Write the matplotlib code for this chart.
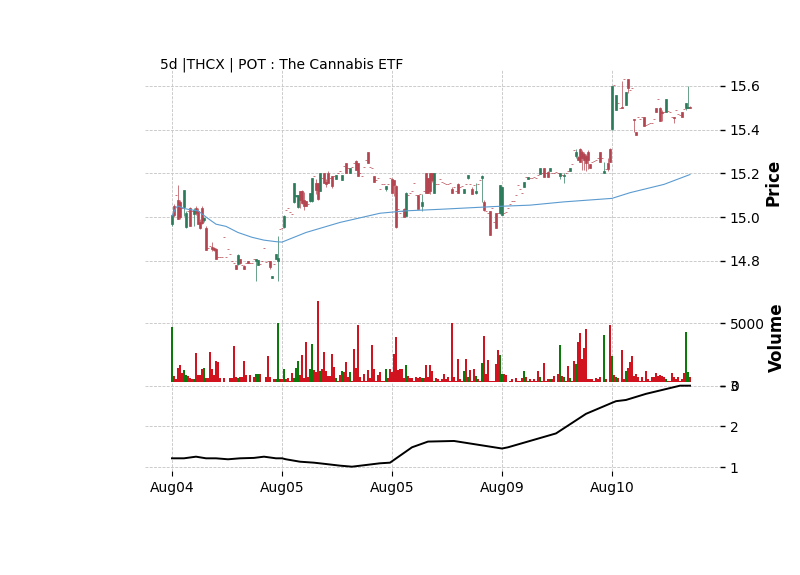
"""5d intraday candles, volume and indicator panel for POT"""

import matplotlib.pyplot as plt
import numpy

TITLE = '5d |THCX | POT : The Cannabis ETF'
TICK_POS = [0, 55, 110, 165, 220]
TICK_LABELS = ['Aug04', 'Aug05', 'Aug05', 'Aug09', 'Aug10']

OPEN = [
    14.97, 15.05, 15.10, 15.08, 15.07, 15.04, 15.045, 14.955, 15.03, 15.04,
    15.03, 15.015, 15.04, 15.03, 14.98, 15.04, 14.985, 14.95, 14.86, 14.87,
    14.865, 14.86, 14.855, 14.82, 14.82, 14.82, 14.91, 14.82, 14.855, 14.83,
    14.80, 14.79, 14.78, 14.785, 14.81, 14.78, 14.775, 14.79, 14.80, 14.79,
    14.79, 14.81, 14.80, 14.78, 14.785, 14.80, 14.86, 14.795, 14.80, 14.80,
    14.72, 14.785, 14.81, 14.80, 14.945, 14.95, 14.955, 15.035, 15.04, 15.025,
    15.015, 15.07, 15.095, 15.045, 15.12, 15.12, 15.08, 15.075, 15.06, 15.075,
    15.075, 15.19, 15.155, 15.158, 15.12, 15.18, 15.20, 15.16, 15.203, 15.18,
    15.188, 15.19, 15.173, 15.20, 15.21, 15.17, 15.233, 15.249, 15.225, 15.203,
    15.23, 15.249, 15.259, 15.249, 15.20, 15.188, 15.23, 15.26, 15.30, 15.23,
    15.226, 15.188, 15.17, 15.18, 15.13, 15.15, 15.15, 15.127, 15.15, 15.18,
    15.173, 15.17, 15.142, 15.036, 15.02, 15.03, 15.036, 15.006, 15.10, 15.11,
    15.12, 15.155, 15.10, 15.10, 15.106, 15.05, 15.12, 15.203, 15.18, 15.20,
    15.20, 15.112, 15.153, 15.15, 15.176, 15.16, 15.155, 15.153, 15.15, 15.155,
    15.13, 15.14, 15.12, 15.153, 15.14, 15.142, 15.112, 15.15, 15.18, 15.153,
    15.13, 15.145, 15.11, 15.153, 15.17, 15.18, 15.071, 15.03, 15.02, 15.029,
    15.044, 14.976, 15.018, 15.017, 15.018, 15.012, 15.02, 15.025, 15.04, 15.06,
    15.074, 15.075, 15.10, 15.145, 15.13, 15.112, 15.14, 15.185, 15.173, 15.18,
    15.18, 15.182, 15.18, 15.194, 15.199, 15.203, 15.223, 15.20, 15.208, 15.21,
    15.20, 15.203, 15.206, 15.20, 15.19, 15.195, 15.19, 15.203, 15.21, 15.21,
    15.241, 15.305, 15.282, 15.276, 15.313, 15.30, 15.29, 15.28, 15.30, 15.244,
    15.253, 15.259, 15.26, 15.27, 15.298, 15.271, 15.203, 15.22, 15.25, 15.313,
    15.403, 15.605, 15.488, 15.52, 15.50, 15.505, 15.63, 15.514, 15.63, 15.58,
    15.59, 15.45, 15.39, 15.456, 15.45, 15.456, 15.456, 15.42, 15.427, 15.43,
    15.43, 15.45, 15.498, 15.539, 15.50, 15.48, 15.48, 15.479, 15.486, 15.48,
    15.456, 15.46, 15.491, 15.47, 15.465, 15.48, 15.494, 15.498, 15.50, 15.505]

HIGH = [
    15.01, 15.06, 15.10, 15.145, 15.08, 15.04, 15.125, 15.03, 15.03, 15.045,
    15.03, 15.04, 15.05, 15.04, 14.99, 15.05, 15.00, 14.96, 14.86, 14.87,
    14.885, 14.865, 14.86, 14.82, 14.82, 14.82, 14.91, 14.82, 14.855, 14.83,
    14.80, 14.79, 14.78, 14.83, 14.81, 14.78, 14.78, 14.79, 14.80, 14.79,
    14.79, 14.81, 14.81, 14.805, 14.785, 14.80, 14.86, 14.795, 14.80, 14.80,
    14.73, 14.785, 14.83, 14.915, 14.945, 14.95, 15.01, 15.035, 15.04, 15.025,
    15.015, 15.155, 15.10, 15.10, 15.12, 15.125, 15.115, 15.075, 15.06, 15.11,
    15.18, 15.19, 15.175, 15.158, 15.20, 15.18, 15.20, 15.175, 15.21, 15.18,
    15.19, 15.19, 15.195, 15.20, 15.21, 15.195, 15.233, 15.25, 15.225, 15.226,
    15.23, 15.249, 15.26, 15.25, 15.20, 15.188, 15.23, 15.26, 15.30, 15.23,
    15.226, 15.19, 15.17, 15.18, 15.13, 15.15, 15.15, 15.142, 15.15, 15.18,
    15.18, 15.17, 15.145, 15.036, 15.02, 15.03, 15.04, 15.115, 15.10, 15.11,
    15.12, 15.155, 15.10, 15.10, 15.106, 15.105, 15.12, 15.203, 15.18, 15.20,
    15.20, 15.203, 15.153, 15.15, 15.176, 15.16, 15.155, 15.153, 15.15, 15.155,
    15.14, 15.14, 15.12, 15.155, 15.14, 15.142, 15.13, 15.15, 15.194, 15.153,
    15.14, 15.145, 15.155, 15.153, 15.17, 15.195, 15.08, 15.03, 15.02, 15.03,
    15.044, 14.976, 15.02, 15.017, 15.145, 15.14, 15.02, 15.025, 15.04, 15.06,
    15.074, 15.075, 15.10, 15.145, 15.13, 15.112, 15.162, 15.185, 15.183, 15.18,
    15.18, 15.182, 15.18, 15.194, 15.223, 15.203, 15.225, 15.20, 15.21, 15.223,
    15.20, 15.203, 15.206, 15.20, 15.20, 15.195, 15.20, 15.203, 15.21, 15.223,
    15.241, 15.305, 15.312, 15.28, 15.315, 15.305, 15.30, 15.29, 15.305, 15.245,
    15.253, 15.259, 15.26, 15.27, 15.30, 15.271, 15.253, 15.22, 15.271, 15.315,
    15.60, 15.605, 15.559, 15.52, 15.50, 15.623, 15.63, 15.571, 15.63, 15.58,
    15.59, 15.45, 15.39, 15.456, 15.45, 15.456, 15.456, 15.42, 15.427, 15.43,
    15.43, 15.45, 15.50, 15.539, 15.505, 15.49, 15.48, 15.539, 15.486, 15.48,
    15.456, 15.46, 15.491, 15.47, 15.465, 15.48, 15.494, 15.524, 15.60, 15.507]

LOW = [
    14.96, 15.00, 15.10, 14.99, 14.99, 15.04, 15.005, 14.95, 15.03, 14.96,
    15.03, 14.96, 15.01, 14.97, 14.945, 14.97, 14.98, 14.85, 14.86, 14.87,
    14.845, 14.845, 14.81, 14.82, 14.82, 14.82, 14.91, 14.82, 14.855, 14.83,
    14.80, 14.79, 14.765, 14.78, 14.785, 14.78, 14.765, 14.79, 14.79, 14.79,
    14.79, 14.81, 14.71, 14.78, 14.785, 14.80, 14.86, 14.795, 14.80, 14.765,
    14.72, 14.785, 14.81, 14.71, 14.945, 14.95, 14.95, 15.035, 15.04, 15.025,
    15.015, 15.065, 15.09, 15.04, 15.04, 15.06, 15.035, 15.05, 15.06, 15.07,
    15.07, 15.19, 15.105, 15.08, 15.12, 15.18, 15.158, 15.14, 15.158, 15.18,
    15.135, 15.19, 15.173, 15.20, 15.21, 15.17, 15.233, 15.203, 15.225, 15.203,
    15.23, 15.249, 15.218, 15.19, 15.20, 15.188, 15.23, 15.26, 15.249, 15.23,
    15.226, 15.16, 15.17, 15.18, 15.13, 15.15, 15.15, 15.12, 15.15, 15.18,
    15.11, 15.095, 14.95, 15.036, 15.02, 15.03, 14.999, 15.005, 15.10, 15.11,
    15.12, 15.155, 15.10, 15.036, 15.106, 15.03, 15.12, 15.112, 15.11, 15.105,
    15.16, 15.112, 15.153, 15.15, 15.176, 15.16, 15.155, 15.153, 15.15, 15.155,
    15.112, 15.14, 15.12, 15.112, 15.14, 15.142, 15.112, 15.15, 15.175, 15.153,
    15.105, 15.145, 15.105, 15.153, 15.17, 15.07, 15.03, 15.03, 15.02, 14.92,
    15.044, 14.976, 14.95, 15.017, 15.015, 15.01, 15.02, 15.025, 15.04, 15.06,
    15.074, 15.075, 15.10, 15.145, 15.13, 15.112, 15.14, 15.185, 15.173, 15.18,
    15.18, 15.182, 15.18, 15.194, 15.199, 15.203, 15.183, 15.20, 15.183, 15.21,
    15.20, 15.203, 15.206, 15.20, 15.173, 15.195, 15.158, 15.203, 15.21, 15.21,
    15.241, 15.305, 15.27, 15.26, 15.251, 15.218, 15.215, 15.21, 15.22, 15.223,
    15.253, 15.259, 15.26, 15.27, 15.251, 15.271, 15.203, 15.22, 15.21, 15.251,
    15.40, 15.605, 15.488, 15.52, 15.50, 15.498, 15.63, 15.514, 15.57, 15.58,
    15.59, 15.388, 15.377, 15.456, 15.45, 15.456, 15.418, 15.42, 15.427, 15.43,
    15.43, 15.45, 15.479, 15.539, 15.44, 15.44, 15.48, 15.479, 15.486, 15.48,
    15.456, 15.43, 15.491, 15.47, 15.465, 15.456, 15.494, 15.49, 15.498, 15.498]

CLOSE = [
    15.01, 15.01, 15.10, 14.99, 15.00, 15.04, 15.125, 15.02, 15.03, 14.96,
    15.03, 15.035, 15.02, 14.97, 14.95, 14.975, 14.995, 14.85, 14.86, 14.87,
    14.855, 14.85, 14.81, 14.82, 14.82, 14.82, 14.91, 14.82, 14.855, 14.83,
    14.80, 14.79, 14.765, 14.825, 14.79, 14.78, 14.765, 14.79, 14.79, 14.79,
    14.79, 14.81, 14.81, 14.805, 14.785, 14.80, 14.86, 14.795, 14.80, 14.77,
    14.73, 14.785, 14.83, 14.815, 14.945, 14.95, 15.005, 15.035, 15.04, 15.025,
    15.015, 15.155, 15.10, 15.10, 15.08, 15.065, 15.05, 15.05, 15.06, 15.11,
    15.18, 15.19, 15.125, 15.082, 15.20, 15.18, 15.158, 15.15, 15.158, 15.18,
    15.142, 15.19, 15.195, 15.20, 15.21, 15.195, 15.233, 15.203, 15.225, 15.226,
    15.23, 15.249, 15.218, 15.19, 15.20, 15.188, 15.23, 15.26, 15.249, 15.23,
    15.226, 15.16, 15.17, 15.18, 15.13, 15.15, 15.15, 15.142, 15.15, 15.18,
    15.112, 15.145, 14.953, 15.036, 15.02, 15.03, 14.999, 15.112, 15.10, 15.11,
    15.12, 15.155, 15.10, 15.036, 15.106, 15.07, 15.12, 15.112, 15.11, 15.12,
    15.17, 15.203, 15.153, 15.15, 15.176, 15.16, 15.155, 15.153, 15.15, 15.155,
    15.112, 15.14, 15.12, 15.112, 15.14, 15.142, 15.13, 15.15, 15.194, 15.153,
    15.105, 15.145, 15.12, 15.153, 15.17, 15.19, 15.033, 15.03, 15.02, 14.92,
    15.044, 14.976, 14.95, 15.017, 15.145, 15.14, 15.02, 15.025, 15.04, 15.06,
    15.074, 15.075, 15.10, 15.145, 15.13, 15.112, 15.162, 15.185, 15.183, 15.18,
    15.18, 15.182, 15.18, 15.194, 15.223, 15.203, 15.183, 15.20, 15.183, 15.223,
    15.20, 15.203, 15.206, 15.20, 15.20, 15.195, 15.195, 15.203, 15.21, 15.223,
    15.241, 15.305, 15.30, 15.26, 15.251, 15.27, 15.26, 15.25, 15.26, 15.223,
    15.253, 15.259, 15.26, 15.27, 15.251, 15.271, 15.21, 15.22, 15.22, 15.251,
    15.60, 15.605, 15.559, 15.52, 15.50, 15.50, 15.63, 15.571, 15.59, 15.58,
    15.59, 15.445, 15.377, 15.456, 15.45, 15.456, 15.418, 15.42, 15.427, 15.43,
    15.43, 15.45, 15.479, 15.539, 15.44, 15.475, 15.48, 15.539, 15.486, 15.48,
    15.456, 15.455, 15.491, 15.47, 15.465, 15.456, 15.494, 15.524, 15.505, 15.498]

VOLUME = [
    4730, 780, 540, 1440, 1660, 990, 1260, 860, 800, 640,
    540, 540, 2640, 860, 860, 1340, 1440, 590, 590, 2720,
    1340, 860, 1980, 1920, 640, 200, 590, 200, 200, 590,
    640, 3180, 670, 590, 720, 720, 1980, 860, 300, 860,
    200, 720, 940, 940, 940, 300, 200, 720, 2380, 720,
    200, 540, 540, 5000, 540, 540, 1340, 540, 640, 400,
    990, 590, 1400, 1980, 860, 2460, 600, 3480, 670, 1340,
    3320, 1260, 1100, 6790, 1180, 1340, 2720, 1180, 780, 780,
    2540, 1520, 590, 400, 860, 1180, 1120, 1920, 700, 1120,
    400, 2940, 1390, 4860, 720, 400, 940, 400, 1260, 590,
    3260, 1340, 400, 860, 1120, 400, 400, 1340, 640, 1340,
    1120, 2540, 3900, 1260, 1340, 1340, 640, 1660, 800, 600,
    590, 400, 700, 600, 670, 590, 590, 1660, 700, 1660,
    1180, 400, 590, 510, 400, 510, 940, 510, 670, 400,
    5000, 670, 400, 2120, 510, 400, 1180, 2120, 670, 1260,
    400, 1340, 780, 510, 400, 1840, 3980, 940, 2060, 400,
    400, 400, 1740, 2860, 2460, 940, 940, 860, 300, 400,
    510, 300, 590, 400, 400, 590, 1180, 670, 400, 510,
    400, 510, 400, 1180, 670, 400, 1790, 400, 510, 510,
    510, 780, 300, 940, 3260, 780, 670, 400, 1580, 590,
    400, 1980, 1740, 3530, 4200, 2140, 3000, 4520, 510, 510,
    510, 400, 590, 510, 670, 300, 4060, 510, 300, 4860,
    2380, 860, 670, 590, 300, 2860, 510, 1180, 1390, 1920,
    2380, 780, 940, 670, 400, 670, 400, 1180, 510, 400,
    670, 670, 1000, 780, 860, 780, 670, 510, 400, 400,
    1000, 670, 510, 670, 400, 510, 1000, 4330, 1120, 670]

# moving average line, read at its kinks
MAV_BAR = [0, 2, 3, 6, 8, 13, 18, 22, 27, 33, 40, 46, 52, 55, 67, 84,
           104, 117, 134, 162, 179, 196, 220, 229, 246, 259]
MAV_VAL = [15.006, 15.044, 15.051, 15.04, 15.036, 15.029, 14.994, 14.968,
           14.958, 14.93, 14.908, 14.895, 14.888, 14.886, 14.93, 14.976,
           15.018, 15.029, 15.036, 15.049, 15.055, 15.07, 15.086, 15.112,
           15.15, 15.195]

# lower indicator line, read at its kinks
IND_BAR = [0, 6, 12, 17, 22, 28, 34, 41, 46, 52, 55, 57, 64, 71, 77, 84, 90,
           97, 104, 109, 120, 128, 141, 165, 168, 192, 207, 220, 222, 227,
           237, 254, 259]
IND_VAL = [1.22, 1.22, 1.26, 1.22, 1.22, 1.196, 1.22, 1.23, 1.26, 1.22, 1.22,
           1.196, 1.137, 1.113, 1.08, 1.04, 1.015, 1.056, 1.098, 1.113, 1.49,
           1.63, 1.645, 1.46, 1.49, 1.83, 2.31, 2.58, 2.62, 2.65, 2.80, 3.0,
           3.0]

CANDLE_UP = '#2b7b5b'
CANDLE_DOWN = '#b3434e'
VOL_UP = '#0b7a0b'
VOL_DOWN = '#d0131f'
GRID_KW = dict(linestyle=(0, (3.5, 1.6)), color='#c4c4c4', linewidth=0.6)


def _px(left, top, right, bottom):
    """axes rectangle from pixel edges"""
    return [left/800, 1-bottom/575, (right-left)/800, (bottom-top)/575]


def _style_axes(ax):
    for spine in ax.spines.values():
        spine.set_visible(False)
    ax.yaxis.tick_right()
    ax.tick_params(axis='y', labelsize=10, width=1.0, length=3.5)
    ax.grid(True, **GRID_KW)
    ax.set_axisbelow(True)
    ax.set_xlim(-13.5, 274)
    ax.set_xticks(TICK_POS)


fig = plt.figure(figsize=(8, 5.75), dpi=100)
ax_price = fig.add_axes(_px(145, 70, 720, 290))
ax_vol = fig.add_axes(_px(145, 290, 720, 385.7))
ax_ind = fig.add_axes(_px(145, 381.6, 720, 471))
ax_ind.set_zorder(3)
ax_ind.set_facecolor('white')

opens = numpy.array(OPEN)
closes = numpy.array(CLOSE)
bars = numpy.arange(len(CLOSE))
rising = closes > opens
candle_colors = numpy.where(rising, CANDLE_UP, CANDLE_DOWN)
vol_colors = numpy.where(rising, VOL_UP, VOL_DOWN)

ax_price.vlines(bars, LOW, HIGH, colors=candle_colors, linewidth=0.5)
ax_price.bar(bars, numpy.abs(closes-opens), bottom=numpy.minimum(opens, closes),
             width=0.7, color=candle_colors, edgecolor=candle_colors,
             linewidth=0.5)
ax_price.plot(MAV_BAR, MAV_VAL, color='#5b9bd0', linewidth=0.8)
ax_price.set_ylim(14.667, 15.673)
ax_price.set_yticks([14.8, 15.0, 15.2, 15.4, 15.6])
ax_price.yaxis.set_major_formatter('{x:.1f}')

ax_vol.bar(bars, VOLUME, width=0.9, color=vol_colors)
ax_vol.set_ylim(0, 7670)
ax_vol.set_yticks([0, 5000])

ax_ind.plot(IND_BAR, IND_VAL, color='black', linewidth=1.4)
ax_ind.set_ylim(0.909, 3.10)
ax_ind.set_yticks([1, 2, 3])

for _ in (ax_price, ax_vol, ax_ind):
    _style_axes(_)
for _ in (ax_price, ax_vol):
    _.tick_params(axis='x', bottom=False, labelbottom=False)
ax_ind.set_xticklabels(TICK_LABELS)
ax_ind.tick_params(axis='x', labelsize=10)

fig.text(160/800, 1-69/575, TITLE, fontsize=10, va='baseline', ha='left')
fig.text(773/800, 1-182/575, 'Price', rotation=90, fontsize=12,
         fontweight='bold', ha='center', va='center')
fig.text(777/800, 1-337/575, 'Volume', rotation=90, fontsize=12,
         fontweight='bold', ha='center', va='center')

fig.savefig('out.png', dpi=100)
